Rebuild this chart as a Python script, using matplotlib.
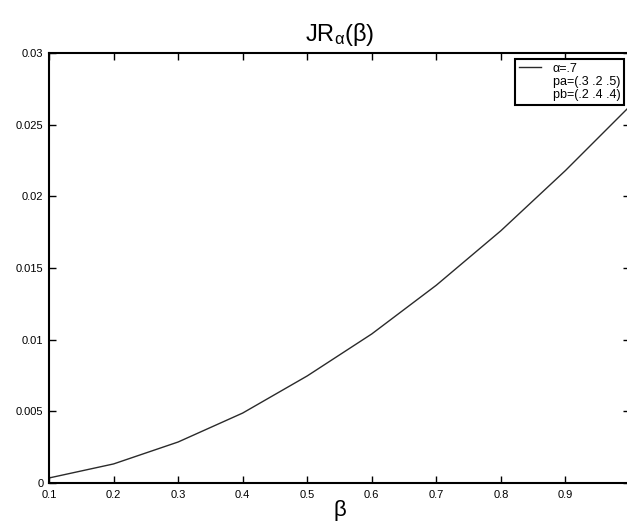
import matplotlib.pyplot as plt
from matplotlib.lines import Line2D

plt.rcParams['font.family'] = ['Liberation Sans', 'DejaVu Sans']
plt.rcParams['mathtext.fontset'] = 'custom'
plt.rcParams['mathtext.rm'] = 'Liberation Sans'
plt.rcParams['mathtext.it'] = 'Liberation Sans'

# values
beta = [0.1, 0.2, 0.3, 0.4, 0.5, 0.6, 0.7, 0.8, 0.9, 1.0]
jr = [0.00035, 0.00133, 0.00286, 0.00488, 0.00747, 0.0104, 0.0138, 0.0176, 0.0218, 0.0263]

xticks = [0.1, 0.2, 0.3, 0.4, 0.5, 0.6, 0.7, 0.8, 0.9]
xticklabels = ['0.1', '0.2', '0.3', '0.4', '0.5', '0.6', '0.7', '0.8', '0.9']
yticks = [0, 0.005, 0.01, 0.015, 0.02, 0.025, 0.03]
yticklabels = ['0', '0.005', '0.01', '0.015', '0.02', '0.025', '0.03']
legend_labels = ['α=.7', 'pa=(.3 .2 .5)', 'pb=(.2 .4 .4)']

W, H = 627, 522
fig = plt.figure(figsize=(W / 100, H / 100), dpi=100)
ax = fig.add_axes([49 / W, 1 - 483 / H, (630 - 49) / W, (483 - 53) / H])

ax.plot(beta, jr, color='#2a2a2a', lw=1.0)
ax.set_xlim(0.1, 1.0)
ax.set_ylim(0, 0.03)
ax.set_xticks(xticks)
ax.set_xticklabels(xticklabels)
ax.set_yticks(yticks)
ax.set_yticklabels(yticklabels)
ax.tick_params(direction='in', length=5, width=1, labelsize=8, top=True, right=True)
ax.tick_params(axis='x', pad=5)
ax.tick_params(axis='y', pad=4)
for s in ax.spines.values():
    s.set_linewidth(1.5)

ax.set_title(r'JR$_{\alpha}$(β)', fontsize=17, pad=9)
ax.set_xlabel('β', fontsize=16, labelpad=0)

handles = [Line2D([], [], color='#2a2a2a', lw=1.0),
           Line2D([], [], color='none'),
           Line2D([], [], color='none')]
leg = ax.legend(handles, legend_labels, loc='upper right',
                bbox_to_anchor=(624 / W, 1 - 59 / H), bbox_transform=fig.transFigure,
                borderaxespad=0, fontsize=9, fancybox=False, framealpha=1,
                edgecolor='black', handlelength=1.8, handletextpad=0.9,
                labelspacing=0.1, borderpad=0.3)
leg.get_frame().set_linewidth(1.5)

plt.savefig('out.png', dpi=100)
